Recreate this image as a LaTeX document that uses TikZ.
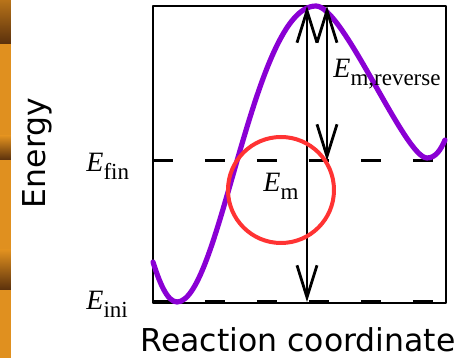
\documentclass[tikz,border=0pt]{standalone}
\usepackage{fontspec}
\setmainfont{Liberation Serif}
\setsansfont{DejaVu Sans}
\usetikzlibrary{arrows.meta}
\definecolor{ink}{HTML}{000000}
\definecolor{pathviolet}{HTML}{8A00D4}
\definecolor{ringred}{HTML}{FF3333}
\definecolor{stripe}{HTML}{E0901F}
\definecolor{stripedark}{HTML}{5A300C}

% E with an upright subscript, as on the level labels
\newcommand{\elabel}[1]{\textit{E}\raisebox{-4pt}{\fontsize{11.5}{11.5}\selectfont #1}}

\tikzset{
  level/.style={ink,line width=1.5pt,dash pattern=on 10pt off 16pt},
  barrier/.style={ink,line width=1.4pt,<->},
  lbl/.style={inner sep=0pt,anchor=base west,font=\rmfamily\fontsize{14}{14}\selectfont}
}

\begin{document}
\begin{tikzpicture}[x=0.5pt,y=-0.5pt,font=\sffamily\fontsize{15.75}{16}\selectfont,
    >={Straight Barb[length=16pt,width=10pt]},line join=round]
  \useasboundingbox (0,0) rectangle (468,358);

  % orange strip on the left edge
  \fill[stripe] (0,0) rectangle (11,358);
  \shade[top color=stripe!70!stripedark,bottom color=stripedark] (0,0) rectangle (11,44);
  \shade[top color=stripe,bottom color=stripedark] (0,136) rectangle (11,160);
  \shade[top color=stripe,bottom color=stripedark] (0,250) rectangle (11,290);

  \pgfmathsetmacro{\xl}{153}
  \pgfmathsetmacro{\xr}{446}
  \pgfmathsetmacro{\ytop}{6}
  \pgfmathsetmacro{\yfin}{161}
  \pgfmathsetmacro{\yini}{302}

  \draw[ink,line width=1pt] (\xl,\ytop) rectangle (\xr,303);
  \draw[level] (\xl,\yfin) -- (\xr,\yfin);
  \draw[level] (\xl,\yini) -- (\xr,\yini);

  % energy profile along the reaction coordinate
  \draw[pathviolet,line width=2.6pt,line cap=round]
    (153,262) .. controls (159,281) and (167,302) .. (177,302)
    .. controls (220,302) and (253,6) .. (316,6)
    .. controls (343,6) and (405,158) .. (427,158)
    .. controls (436,158) and (441,149) .. (445,140);

  \coordinate (topA) at (307,\ytop);
  \coordinate (iniA) at (307,\yini);
  \coordinate (topB) at (327,\ytop);
  \coordinate (finB) at (327,\yfin);
  \draw[barrier] (iniA) -- (topA);
  \draw[barrier] (finB) -- (topB);

  \draw[ringred,line width=2pt] (281,190) circle (53);

  \node[lbl] (efin) at (86,172) {\elabel{fin}};
  \node[lbl] (eini) at (86,310) {\elabel{ini}};
  \node[lbl] (em) at (263,192) {\elabel{m}};
  \node[lbl] (erev) at (333,78) {\elabel{m,reverse}};

  \node[rotate=90,anchor=base,inner sep=0pt] (energy) at (46,153) {Energy};
  \node[anchor=base,inner sep=0pt] (rxn) at (298,352) {Reaction coordinate};
\end{tikzpicture}
\end{document}
